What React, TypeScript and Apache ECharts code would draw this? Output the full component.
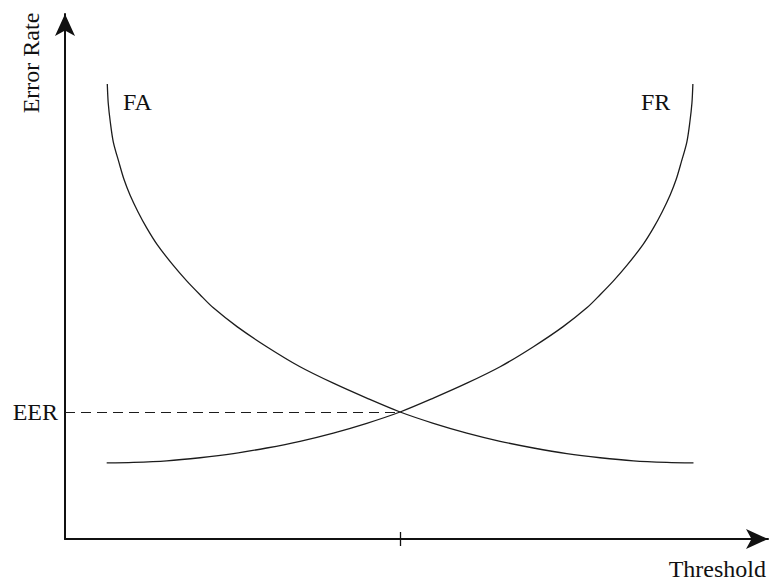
import React, { useEffect, useRef } from "react";
import * as echarts from "echarts";

// Threshold (x) and error rate (y) readings for the two curves
const faThreshold = [0.631, 0.645, 0.676, 0.721, 0.806, 0.881, 0.97, 1.09, 1.219, 1.373, 1.616, 1.816, 2.015, 2.209, 2.567, 3.01, 3.507, 4.004, 4.503, 5.0, 5.497, 5.996, 6.493, 6.99, 7.488, 7.985, 8.482, 8.981, 9.378];
const faRate = [8.85, 8.48, 8.11, 7.72, 7.32, 6.99, 6.69, 6.36, 6.05, 5.73, 5.32, 5.02, 4.75, 4.5, 4.13, 3.74, 3.35, 3.03, 2.74, 2.47, 2.25, 2.06, 1.9, 1.77, 1.66, 1.58, 1.52, 1.49, 1.48];
const frThreshold = [0.622, 1.019, 1.518, 2.015, 2.512, 3.01, 3.507, 4.004, 4.503, 5.0, 5.497, 5.996, 6.493, 6.99, 7.433, 7.791, 7.985, 8.184, 8.384, 8.627, 8.781, 8.91, 9.03, 9.119, 9.194, 9.279, 9.324, 9.355, 9.369];
const frRate = [1.48, 1.49, 1.52, 1.58, 1.66, 1.77, 1.9, 2.06, 2.25, 2.47, 2.74, 3.03, 3.35, 3.74, 4.13, 4.5, 4.75, 5.02, 5.32, 5.73, 6.05, 6.36, 6.69, 6.99, 7.32, 7.72, 8.11, 8.48, 8.85];
const eerThreshold = 5.0;
const eerRate = 2.47;
const seriesNames = ["FA", "FR"];
const axisNames = ["Threshold", "Error Rate"];

const FONT = "'Liberation Serif', 'Times New Roman', serif";
const INK = "#111";
const CURVE = "#1c1c1c";

export default function App() {
  const ref = useRef<HTMLDivElement>(null);
  useEffect(() => {
    if (!ref.current) return;
    const chart = echarts.init(ref.current, undefined, { renderer: "svg" });
    const fa = faThreshold.map((t, i) => [t, faRate[i]]);
    const fr = frThreshold.map((t, i) => [t, frRate[i]]);
    const axisBase = {
      type: "value" as const,
      min: 0,
      splitLine: { show: false },
      axisLabel: { show: false },
    };
    const tickStyle = { color: INK, width: 1.3 };
    chart.setOption({
      animation: false,
      backgroundColor: "#fff",
      grid: { left: 65, right: 2, top: 14, bottom: 44 },
      xAxis: [
        {
          ...axisBase,
          max: 10.49,
          position: "bottom",
          axisLine: {
            show: true,
            symbol: ["none", "arrow"],
            symbolSize: [15, 22],
            lineStyle: { color: INK, width: 2 },
          },
          axisTick: { show: true, customValues: [eerThreshold], length: 7, lineStyle: tickStyle },
        },
        {
          ...axisBase,
          max: 10.49,
          position: "bottom",
          offset: 0,
          axisLine: { show: false },
          axisTick: { show: true, inside: true, customValues: [eerThreshold], length: 7, lineStyle: tickStyle },
        },
      ],
      yAxis: {
        ...axisBase,
        max: 10.21,
        axisLine: {
          show: true,
          symbol: ["none", "arrow"],
          symbolSize: [15, 22],
          lineStyle: { color: INK, width: 2 },
        },
        axisTick: { show: false },
      },
      series: [
        {
          name: seriesNames[0],
          type: "line",
          data: fa,
          showSymbol: false,
          symbol: "none",
          smooth: 0.3,
          lineStyle: { color: CURVE, width: 1.3 },
          markLine: {
            silent: true,
            symbol: ["none", "none"],
            lineStyle: { color: CURVE, width: 1.2, type: [10, 6] },
            label: {
              show: true,
              position: "start",
              formatter: "EER",
              distance: 7,
              color: INK,
              fontFamily: FONT,
              fontSize: 24,
              padding: [6, 0, 0, 0],
            },
            data: [[{ coord: [0, eerRate] }, { coord: [eerThreshold, eerRate] }]],
          },
        },
        {
          name: seriesNames[1],
          type: "line",
          data: fr,
          showSymbol: false,
          symbol: "none",
          smooth: 0.3,
          lineStyle: { color: CURVE, width: 1.3 },
        },
      ],
      graphic: [
        {
          type: "text",
          x: 123,
          y: 102,
          style: { text: seriesNames[0], font: `24px ${FONT}`, fill: INK, verticalAlign: "middle", align: "left" },
        },
        {
          type: "text",
          x: 641,
          y: 102,
          style: { text: seriesNames[1], font: `24px ${FONT}`, fill: INK, verticalAlign: "middle", align: "left" },
        },
        {
          type: "text",
          x: 766,
          y: 569,
          style: { text: axisNames[0], font: `24px ${FONT}`, fill: INK, verticalAlign: "middle", align: "right" },
        },
        {
          type: "text",
          x: 31,
          y: 63,
          rotation: Math.PI / 2,
          style: { text: axisNames[1], font: `24px ${FONT}`, fill: INK, verticalAlign: "middle", align: "center" },
        },
      ],
    });
    return () => chart.dispose();
  }, []);
  return (
    <div
      ref={ref}
      style={{ position: "fixed", left: 0, top: 0, width: 770, height: 583, background: "#fff" }}
    />
  );
}
